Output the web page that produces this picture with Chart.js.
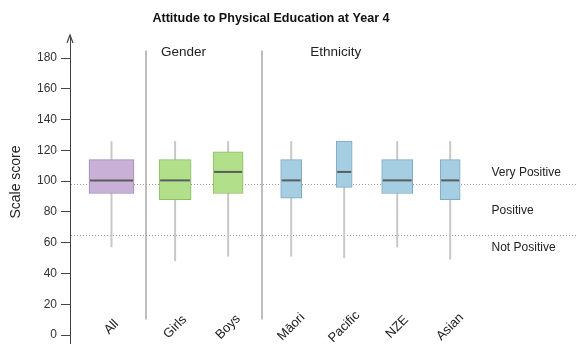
<!DOCTYPE html>
<html>
<head>
<meta charset="utf-8">
<title>Attitude to Physical Education at Year 4</title>
<script src="https://cdn.jsdelivr.net/npm/chart.js@4.4.1/dist/chart.umd.min.js"></script>
<style>
    html, body { margin: 0; padding: 0; background: #fff; }
    #wrap { width: 581px; height: 360px; }
</style>
</head>
<body>
<div id="wrap"><canvas id="chart"></canvas></div>
<script>
// Box plot summaries of the scale scores
const categories = ['All', 'Girls', 'Boys', 'Māori', 'Pacific', 'NZE', 'Asian'];
const whiskerLow = [57, 48, 51, 51, 50, 57, 49];
const lowerQuartile = [92, 88, 92, 89, 96, 92, 88];
const medians = [100.5, 100.5, 106, 100.5, 106, 100.5, 100.5];
const upperQuartile = [114, 114, 119, 114, 126, 114, 114];
const whiskerHigh = [126, 126, 126, 126, 126, 126, 126];
const yTicks = [0, 20, 40, 60, 80, 100, 120, 140, 160, 180];

// Cut scores splitting the attitude bands
const cutScores = [98, 65];
const bandLabels = ['Very Positive', 'Positive', 'Not Positive'];

const chartTitle = 'Attitude to Physical Education at Year 4';

// Layout: where each box sits on the x scale, and how wide it is
const xPositions = [0, 1.2, 2.2, 3.39, 4.39, 5.39, 6.39];
const boxWidths = [45, 32, 30, 21, 16, 31, 20];
const groups = [
    { text: 'Gender', x: 1.36 },
    { text: 'Ethnicity', x: 4.23 }
];
const dividers = [0.65, 2.84];

const purple = { fill: '#c9b0d6', line: '#a189b0' };
const green = { fill: '#b2df8a', line: '#8dbb68' };
const blue = { fill: '#a6cee3', line: '#7fa9c1' };
const boxColours = [purple, green, green, blue, blue, blue, blue];

const FONT = "'Liberation Sans', Arial, sans-serif";

function strokeLine(ctx, x1, y1, x2, y2) {
    ctx.beginPath();
    ctx.moveTo(x1, y1);
    ctx.lineTo(x2, y2);
    ctx.stroke();
}

// Whiskers, dividers, cut lines and labels drawn around the boxes
const boxPlotExtras = {
    id: 'boxPlotExtras',
    beforeDatasetsDraw(chart) {
        const { ctx, chartArea, scales: { x, y } } = chart;
        ctx.save();

        // group dividers
        ctx.strokeStyle = '#bdbdbd';
        ctx.lineWidth = 2;
        dividers.forEach(v => {
            const px = Math.round(x.getPixelForValue(v));
            strokeLine(ctx, px, y.getPixelForValue(185), px, y.getPixelForValue(10));
        });

        // dotted cut score lines
        ctx.strokeStyle = '#9a9a9a';
        ctx.lineWidth = 1;
        ctx.setLineDash([1, 2]);
        cutScores.forEach(v => {
            const py = Math.round(y.getPixelForValue(v)) + 0.5;
            strokeLine(ctx, chartArea.left + 1, py, chartArea.right - 5, py);
        });
        ctx.setLineDash([]);

        // whiskers
        ctx.strokeStyle = '#c8c8c8';
        ctx.lineWidth = 2;
        categories.forEach((c, i) => {
            const px = x.getPixelForValue(xPositions[i]);
            strokeLine(ctx, px, y.getPixelForValue(whiskerLow[i]), px, y.getPixelForValue(whiskerHigh[i]));
        });
        ctx.restore();
    },
    afterDatasetsDraw(chart) {
        const { ctx, chartArea, scales: { x, y } } = chart;
        ctx.save();

        // medians across each box
        ctx.strokeStyle = '#5a5f5c';
        ctx.lineWidth = 2;
        categories.forEach((c, i) => {
            const bar = chart.getDatasetMeta(i).data[0];
            const py = y.getPixelForValue(medians[i]);
            strokeLine(ctx, bar.x - bar.width / 2 + 1, py, bar.x + bar.width / 2 - 1, py);
        });

        // arrow head on the value axis
        ctx.strokeStyle = '#444';
        ctx.lineWidth = 1.2;
        const ax = chartArea.left, ay = chartArea.top;
        ctx.beginPath();
        ctx.moveTo(ax - 3, ay + 8);
        ctx.lineTo(ax, ay);
        ctx.lineTo(ax + 3, ay + 8);
        ctx.stroke();

        ctx.fillStyle = '#222';
        ctx.textAlign = 'center';
        ctx.textBaseline = 'middle';

        // chart title
        ctx.font = `bold 12.6px ${FONT}`;
        ctx.fillStyle = '#111';
        ctx.fillText(chartTitle, 271, 18.5);
        ctx.fillStyle = '#222';

        // category names, rotated
        ctx.font = `13px ${FONT}`;
        categories.forEach((c, i) => {
            ctx.save();
            ctx.translate(x.getPixelForValue(xPositions[i]), chartArea.bottom - 16);
            ctx.rotate(-Math.PI / 4);
            ctx.fillText(c, 0, 0);
            ctx.restore();
        });

        // group headings
        ctx.font = `13.5px ${FONT}`;
        groups.forEach(g => ctx.fillText(g.text, x.getPixelForValue(g.x), chartArea.top + 17));

        // band names beside the cut lines
        ctx.font = `12px ${FONT}`;
        ctx.textAlign = 'left';
        const hi = y.getPixelForValue(cutScores[0]);
        const lo = y.getPixelForValue(cutScores[1]);
        const lx = x.getPixelForValue(7.17);
        ctx.fillText(bandLabels[0], lx, hi - 12);
        ctx.fillText(bandLabels[1], lx, (hi + lo) / 2 + 1);
        ctx.fillText(bandLabels[2], lx, lo + 13);

        // value axis title
        ctx.font = `14px ${FONT}`;
        ctx.textAlign = 'center';
        ctx.save();
        ctx.translate(16, (chartArea.top + chartArea.bottom) / 2 - 7);
        ctx.rotate(-Math.PI / 2);
        ctx.fillText('Scale score', 0, 0);
        ctx.restore();

        ctx.restore();
    }
};

const datasets = categories.map((name, i) => ({
    label: name,
    data: [{ x: xPositions[i], y: [lowerQuartile[i], upperQuartile[i]] }],
    backgroundColor: boxColours[i].fill,
    borderColor: boxColours[i].line,
    borderWidth: 1,
    borderSkipped: false,
    barThickness: boxWidths[i],
    grouped: false
}));

new Chart(document.getElementById('chart'), {
    type: 'bar',
    data: { datasets },
    options: {
        responsive: true,
        maintainAspectRatio: false,
        animation: false,
        layout: { padding: { left: 0, right: 0, top: 35, bottom: 17 } },
        plugins: {
            legend: { display: false },
            tooltip: { enabled: false },
            title: { display: false }
        },
        scales: {
            x: {
                type: 'linear',
                display: false,
                offset: false,
                min: -0.783,
                max: 8.858
            },
            y: {
                min: -5.2,
                max: 195,
                afterBuildTicks: scale => {
                    scale.ticks = yTicks.map(v => ({ value: v }));
                },
                afterFit: scale => {
                    scale.width = 70;
                },
                border: { display: true, color: '#444', width: 1 },
                grid: { drawOnChartArea: false, drawTicks: true, tickLength: 9, color: '#444' },
                ticks: {
                    color: '#333',
                    padding: 4,
                    font: { family: FONT, size: 12 }
                }
            }
        }
    },
    plugins: [boxPlotExtras]
});
</script>
</body>
</html>
